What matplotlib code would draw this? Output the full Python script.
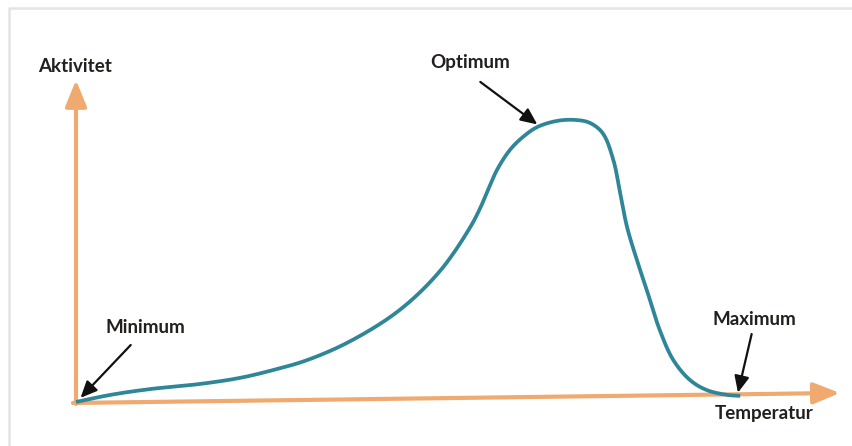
import numpy as np
import matplotlib.pyplot as plt

# activity curve (temperature 0-100, activity 0-100)
temp = [0, 4.5, 9.7, 16.3, 21.6, 25.9, 30.4, 36.1, 42.6, 47.9, 51.8,
        53.2, 54.2, 55.4, 57.1, 58.8, 60.7, 63.3, 65.7, 67.6, 69.3, 70.7, 71.6,
        72.5, 73.8, 75.1, 76.8, 78.6, 80.8, 83.0, 85.7, 87.4]
activity = [0, 2.2, 4.0, 5.6, 7.5, 9.9, 13.0, 18.9, 28.6, 40.7, 54.0,
            60.3, 65.8, 72.1, 78.3, 82.3, 85.4, 87.3, 87.6, 86.7, 83.5, 75.2, 64.9,
            54.4, 44.1, 34.8, 22.4, 13.0, 6.8, 3.7, 2.2, 1.9]

labels = ["Aktivitet", "Temperatur", "Minimum", "Optimum", "Maximum"]

orange = "#f0aa70"
teal = "#2f8699"
ink = "#231f1c"

fig = plt.figure(figsize=(8.52, 4.46), dpi=100)
fig.patch.set_facecolor("white")

# light frame of the scanned page (pixel coordinates)
frame = fig.add_axes([0, 0, 1, 1])
frame.set_xlim(0, 852)
frame.set_ylim(446, 0)
frame.axis("off")
frame.plot([9, 9, 852], [446, 8, 8], color="#e4e4e4", lw=1.8)

# data axes: origin at pixel (76, 402), x 100 at px 836, y 100 at px 80
ax = fig.add_axes([76 / 852, (446 - 402) / 446, 760 / 852, 322 / 446])
ax.set_xlim(0, 100)
ax.set_ylim(0, 100)
ax.axis("off")

axis_arrow = dict(arrowstyle="-|>,head_length=1.6,head_width=0.65",
                  color=orange, lw=3, shrinkA=0, shrinkB=0)
ax.annotate("", xy=(0, 100), xytext=(0, -0.6), arrowprops=axis_arrow,
            annotation_clip=False)
# x axis is slightly tilted in the original
ax.annotate("", xy=(100.5, 2.8), xytext=(-0.4, -0.3), arrowprops=axis_arrow,
            annotation_clip=False)

# centripetal Catmull-Rom through the points (computed in screen-like units)
sx, sy = 7.6, 3.22
P = np.column_stack([np.array(temp) * sx, np.array(activity) * sy])
P = np.vstack([2 * P[0] - P[1], P, 2 * P[-1] - P[-2]])
curve = []
for i in range(1, len(P) - 2):
    p0, p1, p2, p3 = P[i - 1], P[i], P[i + 1], P[i + 2]
    t0 = 0.0
    t1 = t0 + np.linalg.norm(p1 - p0) ** 0.5
    t2 = t1 + np.linalg.norm(p2 - p1) ** 0.5
    t3 = t2 + np.linalg.norm(p3 - p2) ** 0.5
    for tt in np.linspace(t1, t2, 16, endpoint=False):
        a1 = (t1 - tt) / (t1 - t0) * p0 + (tt - t0) / (t1 - t0) * p1
        a2 = (t2 - tt) / (t2 - t1) * p1 + (tt - t1) / (t2 - t1) * p2
        a3 = (t3 - tt) / (t3 - t2) * p2 + (tt - t2) / (t3 - t2) * p3
        b1 = (t2 - tt) / (t2 - t0) * a1 + (tt - t0) / (t2 - t0) * a2
        b2 = (t3 - tt) / (t3 - t1) * a2 + (tt - t1) / (t3 - t1) * a3
        curve.append((t2 - tt) / (t2 - t1) * b1 + (tt - t1) / (t2 - t1) * b2)
curve.append(P[-2])
curve = np.array(curve)
ax.plot(curve[:, 0] / sx, curve[:, 1] / sy, color=teal, lw=2.7,
        solid_capstyle="butt", zorder=3, clip_on=False)

# labels (pixel positions, baseline)
font = dict(fontsize=13.5, fontweight="bold", color=ink, family="Lato",
            ha="center", va="baseline")
frame.text(75, 72, labels[0], **font)
frame.text(764, 419, labels[1], **font)
frame.text(145, 333, labels[2], **font)
frame.text(470, 68, labels[3], **font)
frame.text(754, 325, labels[4], **font)

# pointer arrows
arrow = dict(arrowstyle="-|>,head_length=1.0,head_width=0.45", color="#111111",
             lw=1.6, shrinkA=0, shrinkB=0)
ax.annotate("", xy=(0.6, 1.3), xytext=(7.2, 17.7), arrowprops=arrow, annotation_clip=False)
ax.annotate("", xy=(60.7, 86.2), xytext=(53.2, 99.4), arrowprops=arrow, annotation_clip=False)
ax.annotate("", xy=(87.1, 2.9), xytext=(88.9, 21.1), arrowprops=arrow, annotation_clip=False)

fig.savefig("out.png", dpi=100, facecolor="white")
